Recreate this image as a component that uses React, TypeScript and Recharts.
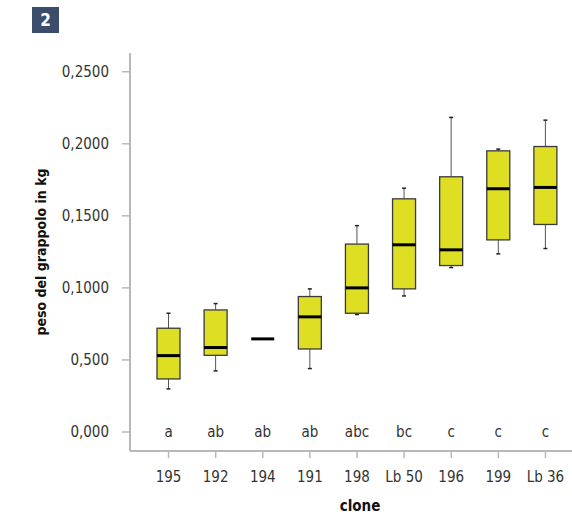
import { Bar, ComposedChart, Scatter, XAxis, YAxis, Label } from "recharts";

const clones = ["195", "192", "194", "191", "198", "Lb 50", "196", "199", "Lb 36"];
const mins = [0.0299, 0.0424, 0.0646, 0.044, 0.0815, 0.0944, 0.1141, 0.1236, 0.1273];
const q1s = [0.0368, 0.0532, 0.0646, 0.0576, 0.0824, 0.0993, 0.1155, 0.1333, 0.144];
const medians = [0.053, 0.0586, 0.0646, 0.0799, 0.1, 0.1299, 0.1264, 0.1688, 0.1697];
const q3s = [0.072, 0.0847, 0.0646, 0.094, 0.1304, 0.1618, 0.1771, 0.1951, 0.1981];
const maxs = [0.0824, 0.0891, 0.0646, 0.0993, 0.1432, 0.1692, 0.2183, 0.1963, 0.2164];
const letters = ["a", "ab", "ab", "ab", "abc", "bc", "c", "c", "c"];

const yTicks = [0, 0.05, 0.1, 0.15, 0.2, 0.25];
const yTickLabels = ["0,000", "0,500", "0,1000", "0,1500", "0,2000", "0,2500"];

const FONT = "'Liberation Sans Narrow', 'DejaVu Sans Condensed', 'Open Sans', sans-serif";
const AXIS = "#b8b8b8";
const TEXT = "#333";

const data = clones.map((clone, i) => ({
  clone,
  min: mins[i],
  q1: q1s[i],
  median: medians[i],
  q3: q3s[i],
  max: maxs[i],
  letter: letters[i],
  base: 0,
}));

function BoxShape(props: any) {
  const { x, y, width, height, payload } = props;
  const { min, q1, median, q3, max } = payload;
  const top = Math.min(y, y + height);
  const bottom = Math.max(y, y + height);
  const span = max - min;
  const toY = (v: number) => (span === 0 ? top : top + ((max - v) / span) * (bottom - top));
  const cx = x + width / 2;
  return (
    <g>
      {max > q3 && (
        <>
          <line x1={cx} x2={cx} y1={toY(max)} y2={toY(q3)} stroke="#555" strokeWidth={1} />
          <line x1={cx - 2} x2={cx + 2} y1={toY(max)} y2={toY(max)} stroke="#222" strokeWidth={1.5} />
        </>
      )}
      {min < q1 && (
        <>
          <line x1={cx} x2={cx} y1={toY(q1)} y2={toY(min)} stroke="#555" strokeWidth={1} />
          <line x1={cx - 2} x2={cx + 2} y1={toY(min)} y2={toY(min)} stroke="#222" strokeWidth={1.5} />
        </>
      )}
      {q3 > q1 && (
        <rect x={x} y={toY(q3)} width={width} height={toY(q1) - toY(q3)} fill="#dede22" stroke="#3a3a3a" strokeWidth={1.3} />
      )}
      <line x1={x} x2={x + width} y1={toY(median)} y2={toY(median)} stroke="#000" strokeWidth={3} />
    </g>
  );
}

function LetterShape(props: any) {
  const { cx, cy, payload } = props;
  return (
    <text x={cx} y={cy} dy="0.355em" textAnchor="middle" fontSize={15} fill={TEXT} fontFamily={FONT}>
      {payload.letter}
    </text>
  );
}

export default function App() {
  return (
    <div style={{ position: "absolute", left: 0, top: 0, width: 572, height: 517, background: "#fff" }}>
      <div
        style={{
          position: "absolute",
          left: 32,
          top: 7,
          width: 27,
          height: 26,
          background: "#3c4d6c",
          color: "#fff",
          fontFamily: FONT,
          fontWeight: 700,
          fontSize: 17,
          lineHeight: "26px",
          textAlign: "center",
        }}
      >
        2
      </div>
      <ComposedChart width={572} height={517} data={data} margin={{ top: 53, right: 0, bottom: 0, left: 0 }} barSize={23}>
        <XAxis xAxisId="top" orientation="top" dataKey="clone" height={0} tick={false} tickLine={false} axisLine={{ stroke: AXIS, strokeWidth: 2 }} />
        <XAxis
          dataKey="clone"
          height={66}
          padding={{ left: 15, right: 3 }}
          tickSize={7}
          tickMargin={13}
          axisLine={{ stroke: AXIS, strokeWidth: 2 }}
          tickLine={{ stroke: AXIS, strokeWidth: 1.5 }}
          tick={{ fontSize: 15, fill: TEXT, fontFamily: FONT }}
          interval={0}
        >
          <Label
            value="clone"
            position="insideBottom"
            offset={6}
            dx={9}
            style={{ fontSize: 15, fontWeight: 700, fill: "#111", fontFamily: FONT }}
          />
        </XAxis>
        <YAxis
          width={130}
          domain={[-0.0132, 0.263]}
          ticks={yTicks}
          tickFormatter={(v: number) => yTickLabels[yTicks.indexOf(v)] ?? ""}
          tickSize={8}
          tickMargin={13}
          axisLine={{ stroke: AXIS, strokeWidth: 2 }}
          tickLine={{ stroke: AXIS, strokeWidth: 1.5 }}
          tick={{ fontSize: 15, fill: TEXT, fontFamily: FONT }}
          allowDataOverflow
        >
          <Label
            value="peso del grappolo in kg"
            angle={-90}
            position="insideLeft"
            offset={41}
            style={{ fontSize: 14, fontWeight: 700, fill: "#111", fontFamily: FONT, textAnchor: "middle" }}
          />
        </YAxis>
        <Bar dataKey={(d: any) => [d.min, d.max]} shape={<BoxShape />} isAnimationActive={false} />
        <Scatter dataKey="base" shape={<LetterShape />} isAnimationActive={false} />
      </ComposedChart>
    </div>
  );
}
